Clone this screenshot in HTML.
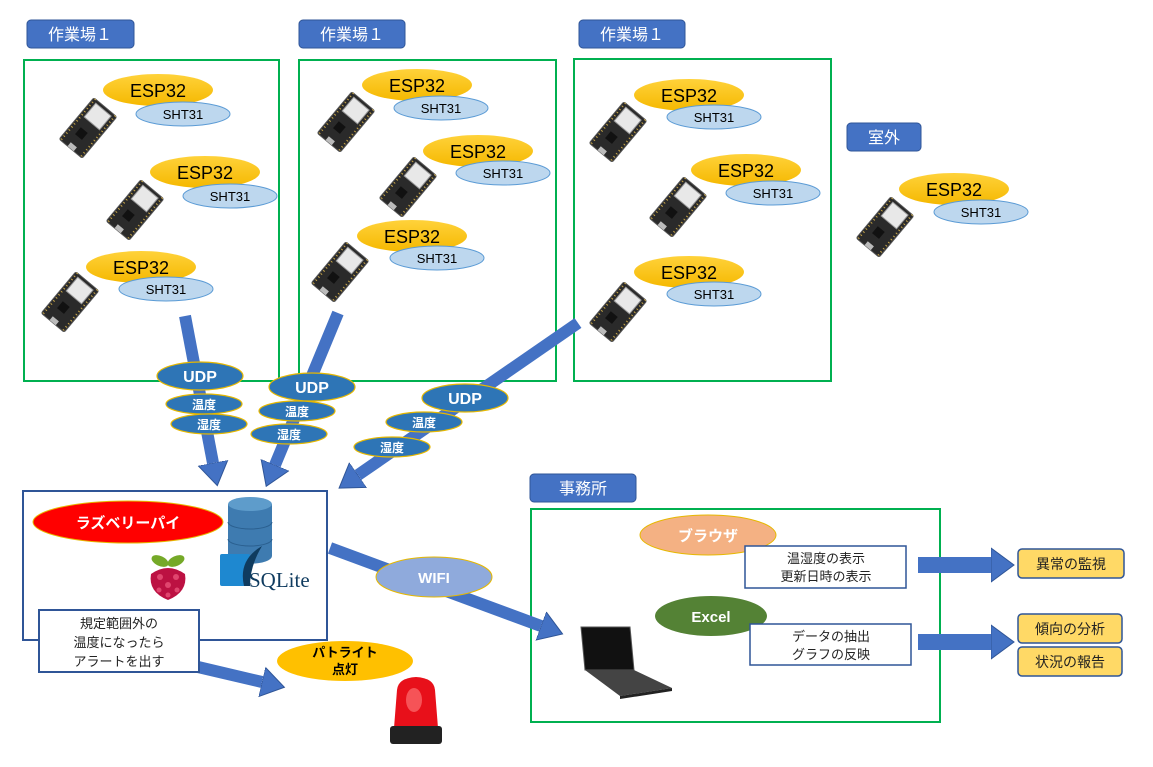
<!DOCTYPE html>
<html><head><meta charset="utf-8"><style>
html,body{margin:0;padding:0;background:#fff}
svg{display:block}
text{font-family:"Liberation Sans","Noto Sans CJK JP",sans-serif}
</style></head><body>
<svg width="1153" height="767" viewBox="0 0 1153 767" xmlns="http://www.w3.org/2000/svg">
<defs>
<linearGradient id="og" x1="0" y1="0" x2="0" y2="1"><stop offset="0" stop-color="#FFD23A"/><stop offset="1" stop-color="#F5B800"/></linearGradient>
<marker id="ah" markerUnits="userSpaceOnUse" markerWidth="24" markerHeight="32" refX="0" refY="16" orient="auto"><path d="M0,1 L23,16 L0,31 Z" fill="#4472C4" stroke="#2F5597" stroke-width="1"/></marker>
<marker id="ah2" markerUnits="userSpaceOnUse" markerWidth="24" markerHeight="36" refX="0" refY="18" orient="auto"><path d="M0,1 L23,18 L0,35 Z" fill="#4472C4" stroke="#2F5597" stroke-width="1"/></marker>
<g id="bd">
<g transform="rotate(40)">
<rect x="-15" y="-27" width="30" height="54" rx="2" fill="#2a2a2a" stroke="#555"/>
<rect x="-10" y="-24" width="20" height="18" fill="#e8e8e8" stroke="#999"/>
<rect x="-6" y="4" width="9" height="9" fill="#111"/>
<rect x="-4" y="22" width="8" height="5" fill="#bbb"/>
<line x1="-13" y1="-27" x2="-13" y2="27" stroke="#c9a74a" stroke-dasharray="1,3" stroke-width="2"/>
<line x1="13" y1="-27" x2="13" y2="27" stroke="#c9a74a" stroke-dasharray="1,3" stroke-width="2"/>
</g></g>
</defs>

<g font-size="16" fill="#fff" text-anchor="middle">
<rect x="27" y="20" width="107" height="28" rx="4" fill="#4472C4" stroke="#2F5597"/><text x="80" y="40">作業場１</text>
<rect x="299" y="20" width="106" height="28" rx="4" fill="#4472C4" stroke="#2F5597"/><text x="352" y="40">作業場１</text>
<rect x="579" y="20" width="106" height="28" rx="4" fill="#4472C4" stroke="#2F5597"/><text x="632" y="40">作業場１</text>
<rect x="847" y="123" width="74" height="28" rx="4" fill="#4472C4" stroke="#2F5597"/><text x="884" y="143">室外</text>
<rect x="530" y="474" width="106" height="28" rx="4" fill="#4472C4" stroke="#2F5597"/><text x="583" y="494">事務所</text>
</g>

<g fill="none" stroke="#00B050" stroke-width="2">
<rect x="24" y="60" width="255" height="321"/>
<rect x="299" y="60" width="257" height="321"/>
<rect x="574" y="59" width="257" height="322"/>
<rect x="531" y="509" width="409" height="213"/>
</g>

<g font-size="18" text-anchor="middle">
<ellipse cx="158" cy="90" rx="55" ry="16" fill="url(#og)"/><ellipse cx="183" cy="114" rx="47" ry="12" fill="#BDD7EE" stroke="#5B9BD5"/><text x="158" y="97">ESP32</text><text x="183" y="119" font-size="13">SHT31</text>
<use href="#bd" x="88" y="128"/>
<ellipse cx="205" cy="172" rx="55" ry="16" fill="url(#og)"/><ellipse cx="230" cy="196" rx="47" ry="12" fill="#BDD7EE" stroke="#5B9BD5"/><text x="205" y="179">ESP32</text><text x="230" y="201" font-size="13">SHT31</text>
<use href="#bd" x="135" y="210"/>
<ellipse cx="141" cy="267" rx="55" ry="16" fill="url(#og)"/><ellipse cx="166" cy="289" rx="47" ry="12" fill="#BDD7EE" stroke="#5B9BD5"/><text x="141" y="274">ESP32</text><text x="166" y="294" font-size="13">SHT31</text>
<use href="#bd" x="70" y="302"/>

<ellipse cx="417" cy="85" rx="55" ry="16" fill="url(#og)"/><ellipse cx="441" cy="108" rx="47" ry="12" fill="#BDD7EE" stroke="#5B9BD5"/><text x="417" y="92">ESP32</text><text x="441" y="113" font-size="13">SHT31</text>
<use href="#bd" x="346" y="122"/>
<ellipse cx="478" cy="151" rx="55" ry="16" fill="url(#og)"/><ellipse cx="503" cy="173" rx="47" ry="12" fill="#BDD7EE" stroke="#5B9BD5"/><text x="478" y="158">ESP32</text><text x="503" y="178" font-size="13">SHT31</text>
<use href="#bd" x="408" y="187"/>
<ellipse cx="412" cy="236" rx="55" ry="16" fill="url(#og)"/><ellipse cx="437" cy="258" rx="47" ry="12" fill="#BDD7EE" stroke="#5B9BD5"/><text x="412" y="243">ESP32</text><text x="437" y="263" font-size="13">SHT31</text>
<use href="#bd" x="340" y="272"/>

<ellipse cx="689" cy="95" rx="55" ry="16" fill="url(#og)"/><ellipse cx="714" cy="117" rx="47" ry="12" fill="#BDD7EE" stroke="#5B9BD5"/><text x="689" y="102">ESP32</text><text x="714" y="122" font-size="13">SHT31</text>
<use href="#bd" x="618" y="132"/>
<ellipse cx="746" cy="170" rx="55" ry="16" fill="url(#og)"/><ellipse cx="773" cy="193" rx="47" ry="12" fill="#BDD7EE" stroke="#5B9BD5"/><text x="746" y="177">ESP32</text><text x="773" y="198" font-size="13">SHT31</text>
<use href="#bd" x="678" y="207"/>
<ellipse cx="689" cy="272" rx="55" ry="16" fill="url(#og)"/><ellipse cx="714" cy="294" rx="47" ry="12" fill="#BDD7EE" stroke="#5B9BD5"/><text x="689" y="279">ESP32</text><text x="714" y="299" font-size="13">SHT31</text>
<use href="#bd" x="618" y="312"/>

<ellipse cx="954" cy="189" rx="55" ry="16" fill="url(#og)"/><ellipse cx="981" cy="212" rx="47" ry="12" fill="#BDD7EE" stroke="#5B9BD5"/><text x="954" y="196">ESP32</text><text x="981" y="217" font-size="13">SHT31</text>
<use href="#bd" x="885" y="227"/>
</g>

<g stroke="#4472C4" stroke-width="12" fill="none">
<line x1="185" y1="316" x2="213" y2="463" marker-end="url(#ah)"/>
<line x1="338" y1="313" x2="275" y2="465" marker-end="url(#ah)"/>
<line x1="578" y1="323" x2="358" y2="475" marker-end="url(#ah)"/>
<line x1="330" y1="548" x2="541" y2="626" marker-end="url(#ah)"/>
<line x1="198" y1="667" x2="262" y2="682" marker-end="url(#ah)"/>
<line x1="918" y1="565" x2="991" y2="565" stroke-width="16" marker-end="url(#ah2)"/>
<line x1="918" y1="642" x2="991" y2="642" stroke-width="16" marker-end="url(#ah2)"/>
</g>

<g fill="#2E75B6" stroke="#E6B800" stroke-width="1.2">
<ellipse cx="200" cy="376" rx="43" ry="14"/><ellipse cx="204" cy="404" rx="38" ry="10"/><ellipse cx="209" cy="424" rx="38" ry="10"/>
<ellipse cx="312" cy="387" rx="43" ry="14"/><ellipse cx="297" cy="411" rx="38" ry="10"/><ellipse cx="289" cy="434" rx="38" ry="10"/>
<ellipse cx="465" cy="398" rx="43" ry="14"/><ellipse cx="424" cy="422" rx="38" ry="10"/><ellipse cx="392" cy="447" rx="38" ry="10"/>
</g>
<g fill="#fff" font-weight="bold" text-anchor="middle">
<text x="200" y="382" font-size="16">UDP</text><text x="204" y="409" font-size="12">温度</text><text x="209" y="429" font-size="12">湿度</text>
<text x="312" y="393" font-size="16">UDP</text><text x="297" y="416" font-size="12">温度</text><text x="289" y="439" font-size="12">湿度</text>
<text x="465" y="404" font-size="16">UDP</text><text x="424" y="427" font-size="12">温度</text><text x="392" y="452" font-size="12">湿度</text>
</g>

<rect x="23" y="491" width="304" height="149" fill="#fff" stroke="#2F5597" stroke-width="2"/>
<ellipse cx="128" cy="522" rx="95" ry="21" fill="#FF0000" stroke="#E6B800"/>
<text x="128" y="528" font-size="15" font-weight="bold" fill="#fff" text-anchor="middle">ラズベリーパイ</text>
<g>
<ellipse cx="160" cy="561" rx="9" ry="5" fill="#75A928" transform="rotate(25 160 561)"/>
<ellipse cx="176" cy="561" rx="9" ry="5" fill="#75A928" transform="rotate(-25 176 561)"/>
<path d="M151,574 Q168,562 185,574 Q188,592 168,600 Q148,592 151,574Z" fill="#BC1142"/>
<g fill="#E0456E"><circle cx="160" cy="577" r="3"/><circle cx="176" cy="577" r="3"/><circle cx="168" cy="585" r="3"/><circle cx="159" cy="590" r="2.5"/><circle cx="177" cy="590" r="2.5"/><circle cx="168" cy="595" r="2.5"/></g>
</g>
<g>
<path d="M228,504 L228,556 A20,7 0 0 0 272,556 L272,504 Z" fill="#3E7BB0"/>
<ellipse cx="250" cy="504" rx="22" ry="7" fill="#5E9CCB"/>
<path d="M228,522 A22,7 0 0 0 272,522 M228,539 A22,7 0 0 0 272,539" stroke="#2a5f8f" fill="none"/>
<rect x="220" y="554" width="30" height="32" rx="2" fill="#1E88D0"/>
<path d="M244,586 Q238,560 262,546 Q250,566 250,586Z" fill="#0F3B5F"/>
<text x="249" y="587" font-size="21" fill="#0F3B5F" style="font-family:'Liberation Serif',serif">SQLite</text>
</g>
<rect x="39" y="610" width="160" height="62" fill="#fff" stroke="#2F5597" stroke-width="2"/>
<g font-size="13" text-anchor="middle" fill="#222"><text x="119" y="628">規定範囲外の</text><text x="119" y="647">温度になったら</text><text x="119" y="666">アラートを出す</text></g>
<ellipse cx="345" cy="661" rx="68" ry="20" fill="#FFC000"/>
<g font-size="13" font-weight="bold" text-anchor="middle"><text x="345" y="657">パトライト</text><text x="345" y="674">点灯</text></g>
<path d="M394,728 L397,690 Q398,678 416,677 Q434,678 435,690 L438,728Z" fill="#E8101A"/>
<ellipse cx="414" cy="700" rx="8" ry="12" fill="#FF8080" opacity=".6"/>
<rect x="390" y="726" width="52" height="18" rx="3" fill="#222"/>
<ellipse cx="434" cy="577" rx="58" ry="20" fill="#8FAADC" stroke="#E6B800"/>
<text x="434" y="583" font-size="15" font-weight="bold" fill="#fff" text-anchor="middle">WIFI</text>

<ellipse cx="708" cy="535" rx="68" ry="20" fill="#F4B183" stroke="#E6B800"/>
<text x="708" y="541" font-size="15" font-weight="bold" fill="#fff" text-anchor="middle">ブラウザ</text>
<rect x="745" y="546" width="161" height="42" fill="#fff" stroke="#2F5597" stroke-width="1.5"/>
<g font-size="13" text-anchor="middle" fill="#222"><text x="826" y="563">温湿度の表示</text><text x="826" y="581">更新日時の表示</text></g>
<ellipse cx="711" cy="616" rx="56" ry="20" fill="#548235"/>
<text x="711" y="622" font-size="15" font-weight="bold" fill="#fff" text-anchor="middle">Excel</text>
<rect x="750" y="624" width="161" height="41" fill="#fff" stroke="#2F5597" stroke-width="1.5"/>
<g font-size="13" text-anchor="middle" fill="#222"><text x="831" y="641">データの抽出</text><text x="831" y="659">グラフの反映</text></g>
<path d="M581,627 L630,627 L634,670 L585,670Z" fill="#111" stroke="#555"/>
<path d="M585,670 L634,670 L672,688 L620,696 Z" fill="#444"/>
<path d="M620,696 L672,688 L672,691 L620,699Z" fill="#222"/>

<g font-size="14" text-anchor="middle" fill="#222">
<rect x="1018" y="549" width="106" height="29" rx="4" fill="#FFD966" stroke="#2F5597" stroke-width="1.5"/><text x="1071" y="569">異常の監視</text>
<rect x="1018" y="614" width="104" height="29" rx="4" fill="#FFD966" stroke="#2F5597" stroke-width="1.5"/><text x="1070" y="634">傾向の分析</text>
<rect x="1018" y="647" width="104" height="29" rx="4" fill="#FFD966" stroke="#2F5597" stroke-width="1.5"/><text x="1070" y="667">状況の報告</text>
</g>
</svg>
</body></html>
